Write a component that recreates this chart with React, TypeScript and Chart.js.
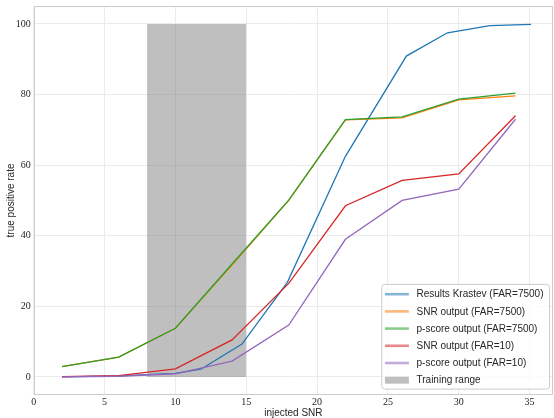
import React, { useEffect, useRef } from "react";
import { Chart, registerables } from "chart.js";

Chart.register(...registerables);

// ---- data ----
const KRASTEV_SNR = [2, 6, 10, 11.8, 14.7, 17.9, 22, 26.3, 29.2, 32.2, 35.1];
const KRASTEV_TPR = [0, 0.3, 1.0, 2.2, 9.3, 26.8, 62.5, 90.9, 97.5, 99.5, 99.9];

const MODEL_SNR = [2, 6, 10, 14, 18, 22, 26, 30, 34];
const SNR_FAR7500 = [2.9, 5.6, 13.8, 31.7, 50.0, 72.8, 73.4, 78.5, 79.6];
const PSCORE_FAR7500 = [2.9, 5.6, 13.8, 32.0, 50.1, 72.9, 73.7, 78.7, 80.4];
const SNR_FAR10 = [0.1, 0.4, 2.3, 10.5, 26.5, 48.5, 55.7, 57.5, 74.0];
const PSCORE_FAR10 = [0.0, 0.2, 0.9, 4.5, 14.7, 39.0, 50.0, 53.2, 73.0];

const TRAINING_RANGE = [8, 15];
const TRAINING_TOP = 100;

const X_TICKS = [0, 5, 10, 15, 20, 25, 30, 35];
const Y_TICKS = [0, 20, 40, 60, 80, 100];
const X_LIMITS = [0, 36.65];
const Y_LIMITS = [-5, 105];

const LABELS = [
  "Results Krastev (FAR=7500)",
  "SNR output (FAR=7500)",
  "p-score output (FAR=7500)",
  "SNR output (FAR=10)",
  "p-score output (FAR=10)",
  "Training range",
];
const COLORS = ["#1f77b4", "#ff7f0e", "#2ca02c", "#d62728", "#9467bd"];
const SHADE = "rgba(128,128,128,0.5)";

const pts = (xs: number[], ys: number[]) => xs.map((x, i) => ({ x, y: ys[i] }));

const frameAndLegend = {
  id: "frameAndLegend",
  afterDraw(chart: any) {
    const { ctx, chartArea } = chart;
    ctx.save();
    // frame
    ctx.strokeStyle = "#cccccc";
    ctx.lineWidth = 1;
    ctx.strokeRect(
      Math.round(chartArea.left) + 0.5,
      Math.round(chartArea.top) + 0.5,
      Math.round(chartArea.right - chartArea.left) - 1,
      Math.round(chartArea.bottom - chartArea.top)
    );
    // legend
    const font = '10px "Liberation Sans", Arial, sans-serif';
    ctx.font = font;
    const ds = chart.data.datasets;
    const rowH = 17.2;
    const padL = 3.6;
    const handleW = 24;
    const gap = 7.6;
    const padR = 5.5;
    const padTop = 10.3;
    const padBot = 8.4;
    let textW = 0;
    ds.forEach((d: any) => (textW = Math.max(textW, ctx.measureText(d.label).width)));
    const boxW = padL + handleW + gap + textW + padR;
    const boxH = padTop + (ds.length - 1) * rowH + padBot;
    const right = chartArea.right - 4;
    const bottom = chartArea.bottom - 6;
    const left = right - boxW;
    const top = bottom - boxH;
    ctx.beginPath();
    (ctx as any).roundRect(left + 0.5, top + 0.5, boxW, boxH, 3);
    ctx.fillStyle = "rgba(255,255,255,0.8)";
    ctx.fill();
    ctx.strokeStyle = "#cccccc";
    ctx.lineWidth = 1;
    ctx.stroke();
    ds.forEach((d: any, i: number) => {
      const cy = top + padTop + i * rowH;
      const hx = left + padL;
      if (d.isShade) {
        ctx.fillStyle = d.backgroundColor;
        ctx.fillRect(hx, cy - 3.5, handleW, 7);
      } else {
        ctx.strokeStyle = d.borderColor;
        ctx.globalAlpha = 0.55;
        ctx.lineWidth = 2.6;
        ctx.beginPath();
        ctx.moveTo(hx, cy);
        ctx.lineTo(hx + handleW, cy);
        ctx.stroke();
        ctx.globalAlpha = 1;
      }
      ctx.fillStyle = "#262626";
      ctx.textBaseline = "middle";
      ctx.textAlign = "left";
      ctx.fillText(d.label, hx + handleW + gap, cy + 0.5);
    });
    ctx.restore();
  },
};

export default function App() {
  const ref = useRef<HTMLCanvasElement | null>(null);
  useEffect(() => {
    document.body.style.margin = "0";
    if (!ref.current) return;
    const lineDs = (label: string, xs: number[], ys: number[], color: string, order: number) => ({
      label,
      data: pts(xs, ys),
      borderColor: color,
      backgroundColor: color,
      borderWidth: 1.3,
      pointRadius: 0,
      tension: 0,
      fill: false,
      order,
    });
    const chart = new Chart(ref.current, {
      type: "line",
      data: {
        datasets: [
          lineDs(LABELS[0], KRASTEV_SNR, KRASTEV_TPR, COLORS[0], 5),
          lineDs(LABELS[1], MODEL_SNR, SNR_FAR7500, COLORS[1], 4),
          lineDs(LABELS[2], MODEL_SNR, PSCORE_FAR7500, COLORS[2], 3),
          lineDs(LABELS[3], MODEL_SNR, SNR_FAR10, COLORS[3], 2),
          lineDs(LABELS[4], MODEL_SNR, PSCORE_FAR10, COLORS[4], 1),
          {
            label: LABELS[5],
            data: TRAINING_RANGE.map((x) => ({ x, y: TRAINING_TOP })),
            borderColor: "rgba(0,0,0,0)",
            backgroundColor: SHADE,
            borderWidth: 0,
            pointRadius: 0,
            fill: { target: { value: 0 } },
            order: 10,
            isShade: true,
          } as any,
        ],
      },
      options: {
        animation: false,
        responsive: false,
        layout: { padding: { top: 6.3, right: 1, left: 0, bottom: 0 } },
        plugins: { legend: { display: false }, tooltip: { enabled: false } },
        scales: {
          x: {
            type: "linear",
            min: X_LIMITS[0],
            max: X_LIMITS[1],
            afterBuildTicks: (s: any) => {
              s.ticks = X_TICKS.map((value) => ({ value }));
            },
            afterFit: (s: any) => {
              s.height = 23.4;
              s.paddingLeft = 0;
              s.paddingRight = 0;
            },
            grid: { color: "#ebebeb", lineWidth: 1, drawTicks: false },
            border: { display: false },
            ticks: {
              padding: 1.5,
              maxRotation: 0,
              autoSkip: false,
              color: "#262626",
              font: { family: '"Liberation Serif", serif', size: 10 },
            },
            title: {
              display: true,
              text: "injected SNR",
              color: "#262626",
              padding: 0,
              font: { family: '"Liberation Sans", Arial, sans-serif', size: 10, lineHeight: 1 },
            },
          },
          y: {
            type: "linear",
            min: Y_LIMITS[0],
            max: Y_LIMITS[1],
            afterBuildTicks: (s: any) => {
              s.ticks = Y_TICKS.map((value) => ({ value }));
            },
            afterFit: (s: any) => {
              s.width = 33.7;
              s.paddingTop = 0;
              s.paddingBottom = 0;
            },
            grid: { color: "#ebebeb", lineWidth: 1, drawTicks: false },
            border: { display: false },
            ticks: {
              padding: 3,
              autoSkip: false,
              color: "#262626",
              font: { family: '"Liberation Serif", serif', size: 10 },
            },
            title: {
              display: true,
              text: "true positive rate",
              color: "#262626",
              padding: { top: 6.5, bottom: 0 },
              font: { family: '"Liberation Sans", Arial, sans-serif', size: 10, lineHeight: 1 },
            },
          },
        },
      },
      plugins: [frameAndLegend],
    });
    return () => chart.destroy();
  }, []);
  return (
    <div style={{ width: 554, height: 418 }}>
      <canvas ref={ref} width={554} height={418} style={{ display: "block" }} />
    </div>
  );
}
